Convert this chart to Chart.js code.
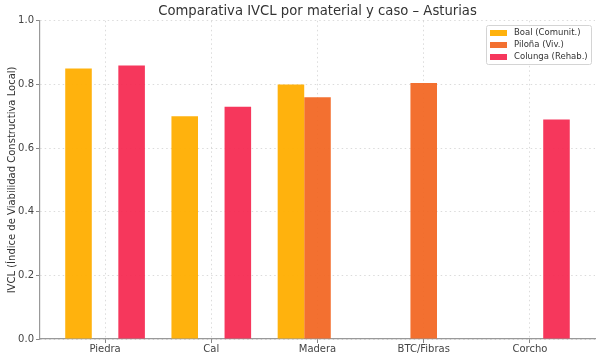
<!DOCTYPE html>
<html>
<head>
<meta charset="utf-8">
<script src="https://cdn.jsdelivr.net/npm/chart.js@4"></script>
<style>
  html, body { margin: 0; padding: 0; background: #fff; }
  #wrap { width: 600px; height: 358px; }
</style>
</head>
<body>
<div id="wrap"><canvas id="myChart"></canvas></div>
<script>
const materiales = ["Piedra", "Cal", "Madera", "BTC/Fibras", "Corcho"];
const boal = [0.85, 0.70, 0.80, null, null];
const pilona = [null, null, 0.76, 0.805, null];
const colunga = [0.86, 0.73, null, null, 0.69];
const yTicks = [0, 0.2, 0.4, 0.6, 0.8, 1.0];

const ctx = document.getElementById("myChart").getContext("2d");
const font = "'DejaVu Sans', sans-serif";

const toPoints = arr => arr.map((v, i) => ({ x: i, y: v }));

// legend drawn as a box in the upper right, like the original
const legendBox = {
  id: "legendBox",
  afterDraw(chart) {
    const c = chart.ctx;
    c.save();
    c.fillStyle = "rgba(255,255,255,0.85)";
    c.strokeStyle = "#d4d4d4";
    c.lineWidth = 1;
    c.beginPath();
    c.roundRect(486.5, 25.5, 105, 39, 2);
    c.fill();
    c.stroke();
    c.font = "8.5px " + font;
    c.textBaseline = "middle";
    chart.data.datasets.forEach((ds, i) => {
      const y = 33 + i * 12;
      c.fillStyle = ds.backgroundColor;
      c.fillRect(490, y - 3, 17, 6);
      c.fillStyle = "#333";
      c.fillText(ds.label, 514, y);
    });
    c.restore();
  }
};

const gridOpts = {
  color: "rgba(0,0,0,0.14)",
  tickLength: 4,
  tickColor: "#888",
  tickBorderDash: []
};

const barChar = new Chart(ctx, {
  type: "bar",
  data: {
    datasets: [
      { label: "Boal (Comunit.)", data: toPoints(boal), backgroundColor: "rgba(255,174,0,0.95)" },
      { label: "Piloña (Viv.)", data: toPoints(pilona), backgroundColor: "rgba(242,100,30,0.92)" },
      { label: "Colunga (Rehab.)", data: toPoints(colunga), backgroundColor: "rgba(245,40,80,0.93)" }
    ]
  },
  options: {
    responsive: true,
    maintainAspectRatio: false,
    animation: false,
    categoryPercentage: 0.75,
    barPercentage: 1.0,
    layout: { padding: { left: 0, right: 5, top: 0, bottom: 0 } },
    plugins: {
      legend: { display: false },
      tooltip: { enabled: false },
      title: {
        display: true,
        fullSize: false,
        text: "Comparativa IVCL por material y caso – Asturias",
        color: "#333",
        font: { family: font, size: 13.2, weight: "normal" },
        padding: { top: 4, bottom: 1 }
      }
    },
    scales: {
      x: {
        type: "linear",
        min: -0.6125,
        max: 4.6125,
        offset: false,
        afterBuildTicks: s => { s.ticks = materiales.map((m, i) => ({ value: i })); },
        afterFit: s => { s.height = 19; },
        ticks: {
          callback: v => materiales[v],
          color: "#444",
          font: { family: font, size: 10 },
          padding: 0,
          maxRotation: 0
        },
        grid: Object.assign({ offset: false }, gridOpts),
        border: { color: "#999", width: 1.2, dash: [1.5, 3] }
      },
      y: {
        min: 0,
        max: 1,
        afterBuildTicks: s => { s.ticks = yTicks.map(v => ({ value: v })); },
        afterFit: s => { s.width = 40; },
        ticks: {
          callback: v => v.toFixed(1),
          color: "#444",
          font: { family: font, size: 10 },
          padding: 2
        },
        grid: gridOpts,
        border: { color: "#999", width: 1.2, dash: [1.5, 3] },
        title: {
          display: true,
          text: "IVCL (Índice de Viabilidad Constructiva Local)",
          color: "#333",
          font: { family: font, size: 10 },
          padding: { top: 6, bottom: 0 }
        }
      }
    }
  },
  plugins: [legendBox]
});
</script>
</body>
</html>
